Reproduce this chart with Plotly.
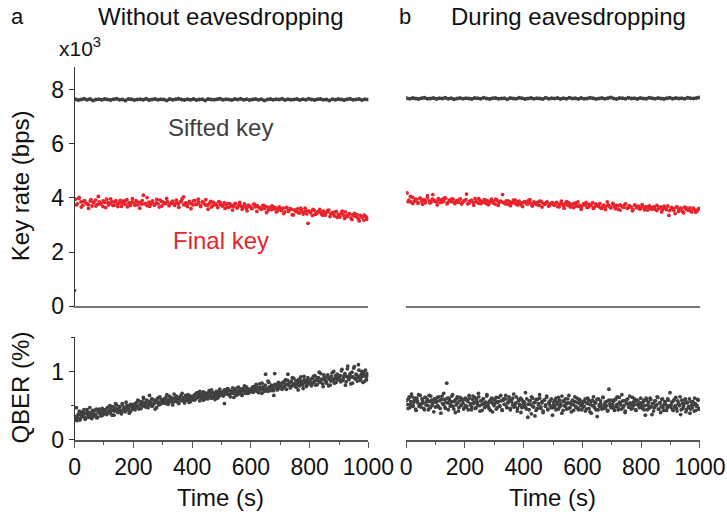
import numpy as np
import plotly.graph_objects as go

# ---------------- data ----------------
sifted_left = [7.64,7.61,7.63,7.66,7.62,7.65,7.60,7.63,7.64,7.62,7.65,7.63,7.61,7.64,7.66,7.62,7.63,7.60,7.65,7.64,
               7.61,7.63,7.64,7.62,7.66,7.61,7.63,7.65,7.62,7.64,7.63,7.60,7.65,7.62,7.64,7.66,7.63,7.61,7.64,7.62,
               7.65,7.61,7.63,7.64,7.60,7.65,7.63,7.62,7.64,7.66,7.62,7.64,7.63,7.61,7.65,7.63,7.66,7.62,7.64,7.61,
               7.63,7.65,7.62,7.64,7.60,7.63,7.65,7.62,7.64,7.63,7.66,7.61,7.64,7.62,7.63,7.65,7.61,7.64,7.62,7.66,
               7.63,7.61,7.64,7.65,7.62,7.63,7.60,7.64,7.62,7.65,7.63,7.61,7.64,7.66,7.62,7.63,7.65,7.61,7.64,7.63]
sifted_right = [7.68,7.66,7.69,7.67,7.65,7.68,7.70,7.66,7.67,7.69,7.65,7.68,7.67,7.70,7.66,7.68,7.64,7.67,7.69,7.66,
                7.68,7.67,7.65,7.69,7.68,7.66,7.70,7.67,7.65,7.68,7.69,7.66,7.67,7.68,7.64,7.69,7.67,7.66,7.70,7.68,
                7.65,7.67,7.69,7.66,7.68,7.67,7.65,7.70,7.66,7.68,7.67,7.69,7.65,7.68,7.66,7.70,7.67,7.68,7.65,7.69,
                7.66,7.67,7.70,7.68,7.65,7.67,7.69,7.66,7.68,7.71,7.67,7.65,7.69,7.68,7.66,7.70,7.67,7.68,7.65,7.69,
                7.67,7.66,7.70,7.68,7.66,7.69,7.67,7.65,7.68,7.70,7.66,7.69,7.67,7.68,7.66,7.70,7.68,7.67,7.69,7.71]

final_left = [3.95,3.78,4.02,3.85,3.72,3.90,3.80,3.75,3.88,3.70,3.82,3.92,3.76,3.85,3.79,3.68,3.83,3.95,3.74,3.80,
              3.86,3.73,3.90,3.78,3.82,3.69,3.88,3.76,3.93,3.81,3.72,3.85,3.79,3.90,3.74,3.83,3.77,4.10,3.80,3.71,
              3.84,3.76,3.89,3.73,3.81,3.78,3.92,3.70,3.83,3.79,3.86,3.74,3.80,3.88,3.72,3.82,3.77,3.85,3.96,3.75,
              3.81,3.68,3.87,3.79,3.74,3.90,3.76,3.83,3.71,3.85,3.78,3.93,3.73,3.80,3.66,3.84,3.77,3.72,3.86,3.75,
              3.70,3.82,3.74,3.65,3.79,3.72,3.68,3.80,3.63,3.75,3.70,3.66,3.78,3.62,3.73,3.69,3.60,3.76,3.67,3.71,
              3.64,3.58,3.72,3.61,3.68,3.55,3.66,3.70,3.59,3.63,3.52,3.67,3.57,3.62,3.48,3.65,3.54,3.60,3.38,3.56,
              3.50,3.59,3.44,3.55,3.47,3.62,3.41,3.52,3.46,3.35,3.54,3.43,3.49,3.57,3.40,3.51,3.36,3.47,3.55,3.42,
              3.45,3.33,3.50,3.38,3.29,3.44,3.36,3.48,3.31,3.40,3.26,3.37,3.43,3.30,3.22,3.35,3.28,3.18,3.32,3.25]
final_left_b = [3.74,3.98,3.66,3.87,3.79,3.61,3.93,3.84,3.70,4.05,3.77,3.89,3.64,3.82,3.96,3.72,3.86,3.68,3.91,3.80,
                3.88,3.67,3.81,3.97,3.73,3.85,3.62,3.90,3.78,4.01,3.69,3.84,3.75,3.94,3.66,3.87,3.79,3.98,3.71,3.83,
                3.77,3.92,3.65,3.86,4.04,3.73,3.81,3.60,3.89,3.76,3.95,3.68,3.83,3.74,3.58,3.87,3.71,3.79,3.64,3.82,
                3.72,3.61,3.79,3.67,3.55,3.75,3.64,3.83,3.58,3.70,3.52,3.68,3.62,3.77,3.50,3.65,3.59,3.71,3.46,3.63,
                3.57,3.66,3.48,3.61,3.53,3.42,3.64,3.50,3.58,3.37,3.55,3.46,3.62,3.40,3.52,3.06,3.48,3.57,3.39,3.45,
                3.49,3.36,3.44,3.53,3.31,3.41,3.47,3.28,3.39,3.51,3.24,3.35,3.42,3.20,3.33,3.38,3.15,3.30,3.36,3.21]
final_left_start_t = [0]
final_left_start = [0.58]
final_right = [4.18,3.92,3.85,4.02,3.88,3.95,3.80,3.98,3.87,3.93,3.82,4.00,3.89,3.84,4.12,3.91,3.86,3.97,3.83,3.94,
               3.88,3.99,3.81,3.92,3.86,3.95,3.79,3.90,3.84,3.96,3.82,3.89,3.93,3.78,3.87,3.91,3.83,3.97,3.85,3.80,
               3.90,3.84,3.93,3.79,3.88,3.82,3.95,3.86,3.77,3.91,3.83,3.87,4.12,3.81,3.89,3.76,3.85,3.80,3.92,3.78,
               3.84,3.88,3.75,3.82,3.86,3.79,3.90,3.81,3.74,3.85,3.78,3.83,3.72,3.87,3.80,3.76,3.84,3.70,3.79,3.82,
               3.73,3.81,3.68,3.77,3.88,3.71,3.79,3.74,3.82,3.66,3.76,3.80,3.70,3.85,3.72,3.67,3.78,3.74,3.64,3.77,
               3.71,3.82,3.66,3.75,3.69,3.79,3.61,3.73,3.68,3.85,3.70,3.63,3.76,3.67,3.72,3.58,3.74,3.69,3.65,3.78,
               3.62,3.71,3.66,3.57,3.73,3.64,3.69,3.60,3.75,3.63,3.68,3.55,3.70,3.62,3.66,3.58,3.72,3.61,3.67,3.56,
               3.64,3.59,3.70,3.53,3.65,3.60,3.42,3.67,3.57,3.62,3.50,3.66,3.58,3.54,3.63,3.48,3.60,3.55,3.52,3.61]
final_right_b = [3.86,4.05,3.79,3.94,3.83,3.99,3.76,3.90,4.08,3.81,3.95,3.87,3.74,3.92,3.84,4.00,3.78,3.89,3.96,3.82,
                 3.85,3.93,3.77,3.88,4.14,3.80,3.91,3.73,3.86,3.97,3.79,3.84,3.92,3.75,3.88,3.81,3.95,3.72,3.87,3.83,
                 3.78,3.89,3.71,3.84,3.92,3.74,3.81,3.68,3.86,3.77,3.93,3.70,3.82,3.75,3.88,3.66,3.79,3.85,3.72,3.80,
                 3.74,3.83,3.67,3.79,3.62,3.86,3.71,3.76,3.64,3.81,3.69,3.58,3.75,3.82,3.66,3.73,3.61,3.78,3.70,3.63,
                 3.69,3.57,3.74,3.65,3.80,3.60,3.71,3.55,3.67,3.76,3.62,3.68,3.52,3.73,3.64,3.59,3.70,3.56,3.66,3.61,
                 3.58,3.67,3.53,3.63,3.48,3.69,3.57,3.35,3.62,3.54,3.66,3.50,3.60,3.45,3.64,3.56,3.51,3.62,3.47,3.58]

qber_left = [0.30,0.47,0.33,0.38,0.29,0.36,0.41,0.34,0.39,0.32,0.44,0.37,0.35,0.40,0.31,0.43,0.38,0.36,0.45,0.33,0.41,0.39,0.35,0.46,0.38,
             0.40,0.44,0.37,0.47,0.42,0.39,0.49,0.43,0.36,0.46,0.51,0.41,0.45,0.48,0.40,0.53,0.44,0.47,0.42,0.50,0.46,0.39,0.52,0.48,0.45,
             0.50,0.44,0.54,0.48,0.57,0.51,0.46,0.55,0.62,0.49,0.53,0.58,0.47,0.56,0.52,0.60,0.50,0.54,0.45,0.58,0.55,0.51,0.63,0.53,0.57,
             0.56,0.60,0.53,0.66,0.58,0.55,0.62,0.59,0.51,0.61,0.57,0.64,0.60,0.54,0.63,0.58,0.68,0.61,0.56,0.65,0.59,0.62,0.55,0.64,0.60,
             0.63,0.58,0.66,0.61,0.69,0.64,0.57,0.67,0.62,0.70,0.65,0.60,0.68,0.63,0.72,0.66,0.61,0.69,0.64,0.59,0.71,0.67,0.63,0.74,0.68,
             0.66,0.71,0.53,0.69,0.74,0.67,0.72,0.63,0.70,0.76,0.68,0.73,0.65,0.71,0.77,0.69,0.74,0.66,0.72,0.79,0.70,0.75,0.68,0.73,0.71,
             0.74,0.70,0.78,0.72,0.81,0.75,0.69,0.77,0.73,0.83,0.76,0.71,0.96,0.74,0.86,0.77,0.72,0.80,0.75,0.65,0.81,0.78,0.73,0.84,0.79,
             0.80,0.74,0.84,0.78,0.88,0.81,0.96,0.83,0.76,0.86,0.80,0.90,0.82,0.77,0.87,0.84,0.79,0.92,0.83,0.75,0.88,0.85,0.80,0.91,0.84,
             0.86,0.79,0.90,0.84,0.94,0.87,0.81,0.91,0.85,0.97,0.88,0.78,0.92,0.86,0.83,0.95,0.89,0.80,0.93,0.87,1.00,0.90,0.84,0.96,0.88,
             0.91,0.85,1.03,0.89,0.95,0.80,0.93,1.08,0.88,0.97,0.92,0.83,1.05,0.90,0.96,0.86,1.10,0.93,0.89,1.00,0.84,0.95,1.02,0.88,0.94]
qber_left_b = [0.34,0.28,0.37,0.42,0.31,0.39,0.35,0.44,0.30,0.38,0.41,0.33,0.47,0.36,0.40,0.34,0.43,0.37,0.32,0.41,0.45,0.38,0.42,0.36,0.44,
               0.43,0.38,0.47,0.41,0.50,0.44,0.36,0.48,0.42,0.53,0.45,0.40,0.49,0.43,0.38,0.51,0.46,0.41,0.55,0.47,0.44,0.50,0.42,0.48,0.52,
               0.47,0.53,0.49,0.58,0.45,0.52,0.56,0.50,0.60,0.54,0.48,0.57,0.51,0.65,0.55,0.49,0.59,0.53,0.57,0.47,0.61,0.55,0.52,0.59,0.54,
               0.59,0.54,0.62,0.57,0.52,0.64,0.58,0.61,0.55,0.67,0.60,0.56,0.62,0.53,0.59,0.65,0.57,0.61,0.54,0.63,0.58,0.66,0.60,0.56,0.62,
               0.60,0.65,0.59,0.68,0.62,0.66,0.71,0.61,0.64,0.58,0.69,0.63,0.67,0.60,0.70,0.65,0.73,0.62,0.68,0.64,0.66,0.61,0.70,0.65,0.69,
               0.69,0.64,0.73,0.67,0.70,0.75,0.66,0.72,0.68,0.71,0.62,0.74,0.69,0.76,0.67,0.72,0.70,0.65,0.75,0.71,0.68,0.77,0.72,0.69,0.74,
               0.72,0.77,0.70,0.75,0.79,0.71,0.76,0.82,0.74,0.68,0.78,0.73,0.80,0.75,0.71,0.84,0.77,0.74,0.79,0.72,0.97,0.76,0.81,0.75,0.78,
               0.78,0.83,0.76,0.85,0.81,0.74,0.87,0.80,0.84,0.78,0.91,0.82,0.79,0.86,0.81,0.73,0.89,0.83,0.86,0.80,0.93,0.84,0.78,0.87,0.82,
               0.84,0.89,0.82,0.93,0.86,0.80,0.91,0.87,0.99,0.84,0.89,0.82,0.95,0.88,0.85,0.92,0.79,0.90,0.86,0.98,0.88,0.83,0.94,0.89,0.91,
               0.88,0.94,1.01,0.87,0.92,0.97,0.85,1.04,0.90,0.94,0.82,0.99,0.92,1.07,0.89,0.95,0.91,1.02,0.87,0.96,0.93,0.99,0.86,0.92,0.97]
qber_right = [0.58,0.46,0.63,0.52,0.67,0.49,0.55,0.61,0.43,0.57,0.66,0.51,0.48,0.60,0.54,0.44,0.62,0.56,0.50,0.65,0.47,0.58,0.53,0.41,0.59,
              0.55,0.62,0.48,0.57,0.39,0.64,0.52,0.59,0.46,0.83,0.54,0.61,0.49,0.56,0.66,0.45,0.58,0.51,0.63,0.42,0.57,0.50,0.60,0.53,0.47,
              0.61,0.48,0.56,0.65,0.51,0.44,0.59,0.53,0.62,0.47,0.55,0.68,0.50,0.57,0.43,0.60,0.54,0.49,0.64,0.52,0.46,0.58,0.55,0.41,0.59,
              0.53,0.62,0.47,0.56,0.50,0.65,0.44,0.58,0.52,0.60,0.48,0.55,0.63,0.46,0.57,0.51,0.67,0.49,0.54,0.42,0.59,0.52,0.61,0.47,0.56,
              0.50,0.69,0.45,0.33,0.57,0.52,0.38,0.61,0.48,0.55,0.43,0.59,0.51,0.66,0.46,0.54,0.40,0.58,0.49,0.62,0.44,0.53,0.57,0.47,0.36,
              0.55,0.48,0.61,0.52,0.45,0.58,0.50,0.64,0.43,0.56,0.49,0.53,0.60,0.46,0.54,0.41,0.57,0.51,0.63,0.47,0.55,0.44,0.59,0.50,0.52,
              0.48,0.57,0.42,0.54,0.61,0.46,0.52,0.39,0.58,0.50,0.55,0.44,0.34,0.60,0.49,0.53,0.45,0.62,0.51,0.47,0.56,0.43,0.74,0.50,0.58,
              0.52,0.46,0.59,0.49,0.63,0.44,0.55,0.51,0.66,0.47,0.57,0.42,0.53,0.60,0.48,0.54,0.45,0.62,0.50,0.56,0.43,0.58,0.52,0.47,0.61,
              0.49,0.55,0.44,0.36,0.58,0.51,0.46,0.61,0.48,0.53,0.42,0.57,0.50,0.63,0.45,0.54,0.40,0.59,0.47,0.52,0.56,0.43,0.60,0.49,0.69,
              0.51,0.45,0.57,0.48,0.62,0.42,0.54,0.50,0.37,0.58,0.46,0.53,0.60,0.44,0.55,0.49,0.39,0.56,0.47,0.52,0.61,0.43,0.50,0.58,0.46]
qber_right_b = [0.52,0.60,0.47,0.56,0.63,0.50,0.58,0.45,0.61,0.54,0.49,0.65,0.53,0.57,0.46,0.62,0.51,0.59,0.44,0.56,0.64,0.50,0.55,0.60,0.48,
                0.57,0.50,0.63,0.46,0.59,0.53,0.68,0.48,0.55,0.61,0.44,0.58,0.52,0.64,0.49,0.56,0.40,0.60,0.54,0.47,0.62,0.51,0.57,0.45,0.59,
                0.50,0.58,0.44,0.61,0.53,0.48,0.64,0.55,0.46,0.59,0.51,0.63,0.42,0.57,0.52,0.60,0.47,0.55,0.66,0.49,0.56,0.43,0.61,0.53,0.50,
                0.58,0.45,0.55,0.62,0.49,0.57,0.43,0.60,0.52,0.65,0.47,0.54,0.59,0.44,0.56,0.61,0.48,0.53,0.63,0.46,0.57,0.50,0.40,0.58,0.52,
                0.55,0.47,0.60,0.52,0.44,0.57,0.63,0.49,0.54,0.35,0.59,0.46,0.53,0.61,0.48,0.56,0.42,0.58,0.51,0.64,0.45,0.55,0.50,0.60,0.47,
                0.51,0.58,0.44,0.55,0.62,0.48,0.53,0.39,0.57,0.50,0.60,0.45,0.54,0.65,0.47,0.52,0.58,0.43,0.56,0.49,0.61,0.46,0.53,0.57,0.44,
                0.55,0.49,0.60,0.45,0.53,0.58,0.41,0.56,0.50,0.63,0.47,0.54,0.59,0.44,0.51,0.57,0.48,0.62,0.46,0.55,0.50,0.42,0.58,0.53,0.47,
                0.49,0.56,0.43,0.59,0.52,0.47,0.62,0.54,0.45,0.57,0.50,0.40,0.58,0.53,0.48,0.64,0.51,0.46,0.55,0.60,0.44,0.52,0.57,0.49,0.54,
                0.52,0.46,0.58,0.50,0.61,0.44,0.55,0.49,0.59,0.37,0.53,0.47,0.57,0.51,0.62,0.45,0.54,0.49,0.60,0.43,0.56,0.51,0.47,0.58,0.50,
                0.48,0.55,0.43,0.59,0.50,0.46,0.57,0.52,0.63,0.44,0.53,0.49,0.58,0.41,0.54,0.47,0.60,0.45,0.51,0.56,0.42,0.53,0.49,0.59,0.45]

x_ticks = [0, 200, 400, 600, 800, 1000]
key_ticks = [0, 2, 4, 6, 8]
qber_ticks = [0, 1]

# sampling times (regular acquisition grid)
t_sift = np.linspace(2, 998, len(sifted_left))
t_final = np.linspace(3, 997, len(final_left))
t_final_b = np.linspace(6, 994, len(final_left_b))
t_qber = np.linspace(2, 998, len(qber_left))
t_qber_b = np.linspace(4, 996, len(qber_left_b))

GRAY = "#404040"
RED = "#e8232b"
FONT = "Liberation Sans, Arial, sans-serif"
W, H = 727, 512
# the photographed page comes out slightly shrunk; place things so they land on target pixels
SX, OX = 0.960, 3.1
SY, OY = 0.968, 0.9

def px(x):
    return ((x - OX) / SX) / W

def py(y):
    return 1 - ((y - OY) / SY) / H

fig = go.Figure()

def sc(x, y, xa, ya, color, size, mode="markers"):
    fig.add_trace(go.Scatter(x=x, y=y, xaxis=xa, yaxis=ya, mode=mode,
                             marker=dict(color=color, size=size, line=dict(width=0)),
                             line=dict(color=color, width=2.5),
                             showlegend=False, hoverinfo="skip"))

sc(t_sift, sifted_left, "x", "y", GRAY, 4, "lines+markers")
sc(t_final, final_left, "x", "y", RED, 3.8)
sc(t_final_b, final_left_b, "x", "y", RED, 3.8)
sc(final_left_start_t, final_left_start, "x", "y", "#a01818", 3.5)
sc(t_sift, sifted_right, "x2", "y2", GRAY, 4, "lines+markers")
sc(t_final, final_right, "x2", "y2", RED, 3.8)
sc(t_final_b, final_right_b, "x2", "y2", RED, 3.8)
sc(t_qber, qber_left, "x3", "y3", GRAY, 3.8)
sc(t_qber_b, qber_left_b, "x3", "y3", GRAY, 3.8)
sc(t_qber, qber_right, "x4", "y4", GRAY, 3.8)
sc(t_qber_b, qber_right_b, "x4", "y4", GRAY, 3.8)

LX = [px(72), px(367)]
RX = [px(405), min(px(700), 1.0)]
TY = [py(305), py(67)]
BY = [py(437.7), py(336)]

tickfont = dict(family=FONT, size=23, color="#111")

def xaxis_top(anchor, dom):
    return dict(domain=dom, anchor=anchor, range=[0, 1000], showgrid=False, zeroline=False,
                showline=True, linecolor="#777", linewidth=2, showticklabels=False, ticks="")

def xaxis_bot(anchor, dom):
    return dict(domain=dom, anchor=anchor, range=[0, 1000], showgrid=False, zeroline=False,
                showline=True, linecolor="#555", linewidth=1.5, ticks="outside", ticklen=6,
                tickwidth=1, tickcolor="#555", tickvals=x_ticks, ticktext=[str(v) for v in x_ticks],
                tickfont=tickfont,
                minor=dict(tickvals=[100, 300, 500, 700, 900], ticks="outside", ticklen=3,
                           tickcolor="#555", tickwidth=1))

fig.update_layout(
    width=W, height=H, margin=dict(l=0, r=0, t=0, b=0),
    paper_bgcolor="white", plot_bgcolor="white",
    xaxis=xaxis_top("y", LX),
    xaxis2=xaxis_top("y2", RX),
    xaxis3=xaxis_bot("y3", LX),
    xaxis4=xaxis_bot("y4", RX),
    yaxis=dict(domain=TY, anchor="x", range=[0, 8.85], showgrid=False, zeroline=False,
               showline=True, linecolor="#333", linewidth=1, ticks="outside", ticklen=5,
               tickcolor="#333", tickvals=key_ticks, tickfont=tickfont),
    yaxis2=dict(domain=TY, anchor="x2", range=[0, 8.85], visible=False),
    yaxis3=dict(domain=BY, anchor="x3", range=[0, 1.5], showgrid=False, zeroline=False,
                showline=True, linecolor="#333", linewidth=1, ticks="outside", ticklen=5,
                tickcolor="#333", tickvals=qber_ticks, tickfont=tickfont,
                minor=dict(tickvals=[0.5, 1.5], ticks="outside", ticklen=3, tickcolor="#333")),
    yaxis4=dict(domain=BY, anchor="x4", range=[0, 1.5], visible=False),
)

def ann(text, x, y, size=24, color="#111", angle=0, xanchor="center", yanchor="middle"):
    fig.add_annotation(text=text, x=px(x), y=py(y), xref="paper", yref="paper",
                       showarrow=False, xanchor=xanchor, yanchor=yanchor, textangle=angle,
                       font=dict(family=FONT, size=size, color=color))

ann("a", 15, 17, size=22)
ann("Without eavesdropping", 219, 17)
ann("b", 404, 17, size=22)
ann("During eavesdropping", 568, 17)
ann("x10<sup>3</sup>", 54, 62, size=21, xanchor="left", yanchor="bottom")
ann("Sifted key", 219, 128, color=GRAY)
ann("Final key", 219, 240, color=RED)
ann("Key rate (bps)", 18, 185, angle=-90)
ann("QBER (%)", 18, 386, angle=-90)
ann("Time (s)", 219, 495)
ann("Time (s)", 552, 495)

fig.write_html("out.html", config={"displayModeBar": False},
               post_script="document.body.style.margin='0';document.body.style.overflow='hidden';")
